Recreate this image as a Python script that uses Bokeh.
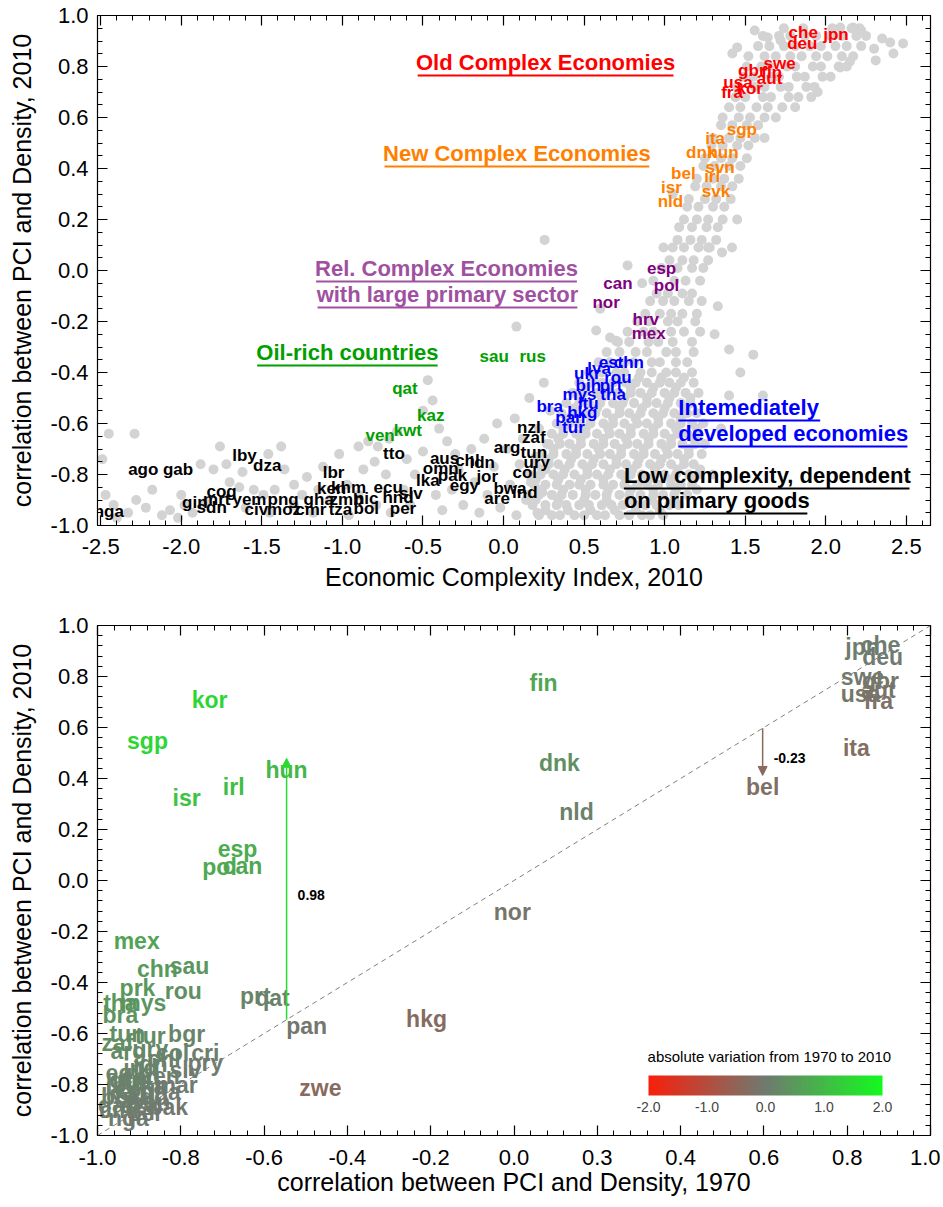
from bokeh.plotting import figure
from bokeh.layouts import column
from bokeh.models import (ColumnDataSource, LinearAxis, SingleIntervalTicker, NumeralTickFormatter,
                          Arrow, NormalHead, Slope, ColorBar, LinearColorMapper, FixedTicker, Label)
from bokeh.core.properties import value
from bokeh.transform import transform
from bokeh.embed import file_html
from bokeh.resources import INLINE

FONT = "Liberation Sans"

# ---------------------------------------------------------------- top panel data
# scattered countries/years (gray)
gray_pts = [
    (-2.49,-0.74),(-2.45,-0.64),(-2.29,-0.64),(-2.47,-0.88),(-2.42,-0.92),(-2.33,-0.95),(-2.40,-0.97),
    (-2.28,-0.90),(-2.22,-0.93),(-2.12,-0.96),(-2.18,-0.86),(-2.07,-0.94),(-2.02,-0.97),(-1.98,-0.92),
    (-1.93,-0.95),(-1.88,-0.76),(-1.80,-0.78),(-1.76,-0.69),(-1.72,-0.76),(-1.62,-0.79),(-1.46,-0.72),
    (-1.38,-0.69),(-1.36,-0.78),(-1.70,-0.83),(-1.64,-0.85),(-1.55,-0.86),(-1.49,-0.88),(-1.42,-0.86),
    (-1.30,-0.84),(-1.22,-0.81),(-1.12,-0.77),(-1.02,-0.72),(-0.90,-0.69),(-0.84,-0.67),(-0.78,-0.69),
    (-0.73,-0.80),(-0.80,-0.75),(-0.87,-0.78),(-1.60,-0.93),(-1.45,-0.95),(-1.30,-0.92),(-1.18,-0.95),
    (-1.08,-0.90),(-0.96,-0.96),(-0.90,-0.88),(-0.79,-0.92),(-1.85,-0.91),(-2.00,-0.88),(-1.25,-0.88),
    (-0.97,-0.84),(-1.15,-0.86),(-0.70,-0.95),(-0.66,-0.63),(-0.71,-0.66),(-0.62,-0.86),(-0.58,-0.92),
    (-0.60,-0.74),
    (-0.55,-0.80),(-0.50,-0.71),(-0.47,-0.43),(-0.44,-0.51),(-0.40,-0.62),(-0.35,-0.67),(-0.30,-0.72),
    (-0.42,-0.88),(-0.38,-0.94),(-0.32,-0.86),(-0.28,-0.78),(-0.25,-0.92),(-0.20,-0.70),(-0.18,-0.83),
    (-0.15,-0.95),(-0.12,-0.66),(-0.10,-0.88),(-0.06,-0.77),(-0.04,-0.60),(-0.02,-0.93),(0.02,-0.70),
    (0.04,-0.84),(0.07,-0.58),(0.08,-0.96),(0.10,-0.76),(0.12,-0.66),(0.14,-0.90),(0.16,-0.50),
    (0.17,-0.83),(0.20,-0.73),(0.21,-0.95),(0.22,-0.62),(0.24,-0.87),(0.25,-0.44),(0.26,-0.78),
    (0.28,-0.68),(0.29,-0.55),(0.255,0.12),(0.08,-0.22),(-0.50,-0.55),
    (1.31,-0.25),(1.40,-0.31),(1.47,-0.40),(1.61,-0.49),(1.40,-0.49),(1.35,-0.62),(1.55,-0.33),(1.30,-0.80),
    (0.993,0.090),(1.270,0.090),(1.356,0.071),(1.418,0.090),(0.575,-0.235),(0.661,-0.263),(0.698,-0.275),
    (0.77,0.02),(0.60,-0.15),(0.86,-0.05),(1.33,-0.14),(1.45,0.20),(1.05,0.30),(1.62,0.52),(1.95,0.70),
    (1.559,0.941),(1.64,0.914),(1.45,0.875),(1.42,0.851),(1.72,0.902),(2.17,0.953),(2.22,0.941),
    (2.40,0.894),(2.42,0.851),(2.48,0.890),(2.09,0.953),(2.31,0.824),(2.09,0.796),(2.15,0.82),
    (2.30,0.87),(2.35,0.91),
]

# dense part of the cloud, read row by row: (correlation, list of ECI values)
cloud_rows = [
    (-0.96, [0.22, 0.30, 0.35, 0.44, 0.50, 0.58, 0.63, 0.72, 0.78, 0.86, 0.91, 0.99]),
    (-0.94, [0.26, 0.40, 0.54, 0.69, 0.82, 0.97]),
    (-0.92, [0.18, 0.26, 0.33, 0.39, 0.47, 0.53, 0.61, 0.67, 0.74, 0.82, 0.88, 0.95, 1.03, 1.09]),
    (-0.90, [0.20, 0.34, 0.50, 0.64, 0.78, 0.92, 1.06]),
    (-0.88, [0.15, 0.22, 0.30, 0.36, 0.43, 0.51, 0.57, 0.64, 0.72, 0.78, 0.85, 0.93, 0.99, 1.06, 1.14]),
    (-0.86, [0.23, 0.37, 0.51, 0.65, 0.79, 0.93, 1.07, 1.20]),
    (-0.84, [0.19, 0.26, 0.33, 0.41, 0.47, 0.54, 0.62, 0.68, 0.75, 0.83, 0.89, 0.96, 1.04, 1.10, 1.17]),
    (-0.82, [0.20, 0.34, 0.48, 0.62, 0.76, 0.90, 1.04, 1.18]),
    (-0.80, [0.16, 0.23, 0.31, 0.37, 0.44, 0.52, 0.58, 0.65, 0.73, 0.79, 0.86, 0.94, 1.00, 1.07, 1.15, 1.21]),
    (-0.78, [0.24, 0.38, 0.52, 0.66, 0.80, 0.94, 1.08, 1.22]),
    (-0.76, [0.20, 0.28, 0.34, 0.41, 0.49, 0.55, 0.62, 0.70, 0.76, 0.83, 0.91, 0.97, 1.04, 1.12, 1.18]),
    (-0.74, [0.28, 0.42, 0.56, 0.70, 0.84, 0.98, 1.12]),
    (-0.72, [0.24, 0.31, 0.39, 0.45, 0.52, 0.60, 0.66, 0.73, 0.81, 0.87, 0.94, 1.02, 1.08, 1.15, 1.23]),
    (-0.70, [0.31, 0.45, 0.59, 0.73, 0.87, 1.01, 1.15]),
    (-0.68, [0.27, 0.35, 0.41, 0.48, 0.56, 0.62, 0.69, 0.77, 0.83, 0.90, 0.98, 1.04, 1.11, 1.19, 1.25]),
    (-0.66, [0.34, 0.48, 0.62, 0.76, 0.90, 1.04, 1.18]),
    (-0.64, [0.30, 0.37, 0.45, 0.51, 0.58, 0.66, 0.72, 0.79, 0.87, 0.93, 1.00, 1.08, 1.14, 1.21]),
    (-0.62, [0.37, 0.51, 0.65, 0.79, 0.93, 1.07, 1.20]),
    (-0.60, [0.33, 0.41, 0.47, 0.54, 0.62, 0.68, 0.75, 0.83, 0.89, 0.96, 1.04, 1.10, 1.17, 1.24]),
    (-0.58, [0.40, 0.54, 0.68, 0.82, 0.96, 1.10]),
    (-0.56, [0.36, 0.43, 0.51, 0.57, 0.64, 0.72, 0.78, 0.85, 0.93, 0.99, 1.06, 1.14, 1.20]),
    (-0.54, [0.44, 0.58, 0.72, 0.86, 1.00, 1.13]),
    (-0.52, [0.39, 0.47, 0.53, 0.60, 0.68, 0.74, 0.81, 0.89, 0.95, 1.02, 1.10, 1.16]),
    (-0.50, [0.47, 0.61, 0.75, 0.89, 1.03, 1.16]),
    (-0.48, [0.43, 0.50, 0.58, 0.64, 0.71, 0.79, 0.85, 0.92, 1.00, 1.06, 1.13, 1.21]),
    (-0.46, [0.51, 0.65, 0.79, 0.93, 1.07]),
    (-0.44, [0.47, 0.55, 0.61, 0.68, 0.76, 0.82, 0.89, 0.97, 1.03, 1.10, 1.18]),
    (-0.42, [0.56, 0.70, 0.84, 0.98, 1.12]),
    (-0.40, [0.53, 0.61, 0.70, 0.75, 0.85, 0.92, 1.01, 1.07, 1.17]),
    (-0.36, [0.59, 0.66, 0.75, 0.81, 0.92, 0.97, 1.07, 1.14]),
    (-0.32, [0.64, 0.72, 0.82, 0.89, 1.01, 1.07, 1.18]),
    (-0.28, [0.71, 0.78, 0.90, 0.96, 1.05, 1.17]),
    (-0.24, [0.77, 0.87, 0.93, 1.04, 1.12, 1.22]),
    (-0.20, [0.83, 0.90, 1.02, 1.08, 1.19]),
    (-0.17, [0.88, 0.97, 1.04, 1.11, 1.20]),
    (-0.12, [0.91, 0.99, 1.06, 1.15, 1.23]),
    (-0.09, [0.95, 1.02, 1.11, 1.17]),
    (-0.04, [0.93, 1.06, 1.13, 1.22]),
    (0.01, [0.98, 1.08, 1.17, 1.24]),
    (0.04, [1.03, 1.11, 1.18, 1.27]),
    (0.09, [1.05, 1.12, 1.21, 1.28]),
    (0.12, [1.08, 1.16, 1.23, 1.32]),
    (0.17, [1.09, 1.17, 1.26, 1.33]),
    (0.20, [1.12, 1.20, 1.27, 1.36]),
    (0.25, [1.14, 1.21, 1.30, 1.37]),
    (0.28, [1.15, 1.25, 1.32, 1.41]),
    (0.33, [1.19, 1.26, 1.35, 1.42]),
    (0.36, [1.20, 1.30, 1.37, 1.46]),
    (0.41, [1.24, 1.31, 1.40, 1.47]),
    (0.44, [1.25, 1.35, 1.42, 1.51]),
    (0.49, [1.29, 1.36, 1.45, 1.52]),
    (0.52, [1.30, 1.40, 1.47, 1.56]),
    (0.57, [1.35, 1.42, 1.51, 1.58]),
    (0.60, [1.36, 1.46, 1.53, 1.62, 1.69]),
    (0.64, [1.40, 1.47, 1.57, 1.64, 1.73, 1.81]),
    (0.68, [1.44, 1.50, 1.61, 1.66, 1.77, 1.83, 1.91]),
    (0.72, [1.45, 1.56, 1.62, 1.72, 1.77, 1.88, 1.93]),
    (0.76, [1.49, 1.55, 1.66, 1.71, 1.82, 1.87, 1.98, 2.03]),
    (0.80, [1.51, 1.60, 1.65, 1.76, 1.81, 1.92, 1.97, 2.08, 2.13]),
    (0.84, [1.52, 1.62, 1.69, 1.78, 1.85, 1.94, 2.01, 2.10, 2.17]),
    (0.88, [1.58, 1.65, 1.74, 1.81, 1.90, 1.97, 2.06, 2.13, 2.22]),
    (0.92, [1.61, 1.71, 1.78, 1.87, 1.94, 2.03, 2.10, 2.19, 2.25]),
    (0.95, [1.74, 1.86, 2.04, 2.16, 2.21]),
]
gray_x = [p[0] for p in gray_pts] + [x for yy, xs in cloud_rows for x in xs]
gray_y = [p[1] for p in gray_pts] + [yy for yy, xs in cloud_rows for x in xs]

old_names = ["che", "jpn", "deu", "swe", "gbr", "fin", "aut", "usa", "kor", "fra"]
old_x = [1.860, 2.063, 1.854, 1.713, 1.541, 1.664, 1.651, 1.455, 1.528, 1.418]
old_y = [0.933, 0.925, 0.890, 0.812, 0.784, 0.776, 0.753, 0.737, 0.714, 0.698]

new_names = ["sgp", "ita", "dnk", "hun", "svn", "irl", "bel", "isr", "svk", "nld"]
new_x = [1.479, 1.313, 1.227, 1.362, 1.344, 1.295, 1.116, 1.042, 1.319, 1.036]
new_y = [0.553, 0.518, 0.463, 0.463, 0.404, 0.369, 0.380, 0.325, 0.310, 0.271]

rel_names = ["esp", "can", "pol", "nor", "hrv", "mex"]
rel_x = [0.981, 0.710, 1.012, 0.637, 0.883, 0.901]
rel_y = [0.008, -0.051, -0.059, -0.125, -0.192, -0.247]

mid_names = ["est", "chn", "ukr", "lva", "rou", "bih", "prt", "mys", "tha", "bra", "ltu", "hkg", "pan", "tur"]
mid_x = [0.667, 0.778, 0.520, 0.593, 0.710, 0.526, 0.667, 0.471, 0.680, 0.286, 0.526, 0.489, 0.415, 0.434]
mid_y = [-0.361, -0.361, -0.404, -0.384, -0.420, -0.451, -0.451, -0.486, -0.486, -0.533, -0.522, -0.557, -0.576, -0.616]

oil_names = ["sau", "rus", "qat", "kaz", "kwt", "ven"]
oil_x = [-0.058, 0.181, -0.612, -0.452, -0.594, -0.766]
oil_y = [-0.337, -0.337, -0.463, -0.569, -0.627, -0.647]

low_names = ["nga", "ago", "gab", "lby", "dza", "cog", "gin", "mrt", "sdn", "yem", "png", "civ", "moz",
             "cmr", "gha", "zmb", "tza", "lbr", "ken", "khm", "nic", "bol", "per", "ecu", "hnd", "slv",
             "lka", "egy", "tto", "aus", "chl", "idn", "omn", "pak", "jor", "nzl", "zaf", "arg", "tun",
             "ury", "col", "bwa", "ind", "are"]
low_x = [-2.45, -2.236, -2.020, -1.608, -1.467, -1.750, -1.916, -1.780, -1.811, -1.577, -1.368, -1.534, -1.362,
         -1.196, -1.147, -0.975, -1.012, -1.055, -1.067, -0.962, -0.852, -0.852, -0.624, -0.716, -0.655, -0.575,
         -0.470, -0.243, -0.680, -0.366, -0.224, -0.132, -0.390, -0.317, -0.101, 0.157, 0.188, 0.022, 0.188,
         0.206, 0.132, 0.040, 0.132, -0.040]
low_y = [-0.945, -0.780, -0.780, -0.725, -0.765, -0.867, -0.910, -0.898, -0.929, -0.898, -0.898, -0.937, -0.937,
         -0.937, -0.898, -0.898, -0.937, -0.792, -0.855, -0.851, -0.894, -0.933, -0.933, -0.851, -0.890, -0.875,
         -0.824, -0.843, -0.718, -0.737, -0.745, -0.753, -0.776, -0.804, -0.808, -0.616, -0.655, -0.694, -0.714,
         -0.753, -0.792, -0.855, -0.871, -0.894]

cat_text = ["Old Complex Economies", "New Complex Economies", "Rel. Complex Economies",
            "with large primary sector", "Oil-rich countries", "Intemediately", "developed economies",
            "Low complexity, dependent", "on primary goods"]
cat_x = [0.261, 0.083, -0.354, -0.348, -0.969, 1.085, 1.085, 0.747, 0.747]
cat_y = [0.816, 0.459, 0.008, -0.094, -0.322, -0.537, -0.639, -0.804, -0.902]
cat_color = ["#ff0000", "#ff8000", "#a050a0", "#a050a0", "#00a000", "#0000ff", "#0000ff", "#000000", "#000000"]
cat_align = ["center"] * 5 + ["left"] * 4
cat_width_px = [258, 267, 263, 262, 182, 143, 231, 288, 185]

# ---------------------------------------------------------------- bottom panel data
bot_names = ["kor", "sgp", "fin", "hun", "irl", "isr", "dnk", "nld", "esp", "pol", "can", "mex", "chn", "sau",
             "rou", "prk", "tha", "mys", "bra", "prt", "qat", "pan", "nor", "hkg", "zwe", "bel", "ita", "jpn",
             "che", "deu", "swe", "gbr", "aut", "usa", "fra",
             "tun", "tur", "bgr", "zaf", "arg", "ury", "col", "cri", "pry", "slv", "idn", "egy", "ind", "chl",
             "gtm", "lka", "ken", "gha", "civ", "sen", "pak", "cmr", "nga", "per", "bol", "ecu", "ven", "mar",
             "dza", "lby", "ago", "gab", "cog"]
bot_x70 = [-0.731, -0.880, 0.071, -0.546, -0.673, -0.786, 0.109, 0.150, -0.664, -0.707, -0.652, -0.906, -0.856,
           -0.779, -0.794, -0.904, -0.945, -0.890, -0.945, -0.621, -0.580, -0.498, -0.004, -0.210, -0.465, 0.597,
           0.822, 0.837, 0.880, 0.885, 0.837, 0.880, 0.875, 0.832, 0.875,
           -0.928, -0.873, -0.786, -0.952, -0.926, -0.873, -0.820, -0.741, -0.741, -0.789, -0.873, -0.933, -0.897,
           -0.840, -0.921, -0.873, -0.933, -0.849, -0.921, -0.873, -0.830, -0.945, -0.926, -0.885, -0.950, -0.897,
           -0.850, -0.810, -0.900, -0.940, -0.880, -0.950, -0.910]
bot_y10 = [0.706, 0.549, 0.773, 0.434, 0.365, 0.325, 0.459, 0.267, 0.122, 0.051, 0.055, -0.239, -0.349,
           -0.337, -0.435, -0.420, -0.482, -0.482, -0.529, -0.451, -0.459, -0.569, -0.122, -0.545, -0.812, 0.367,
           0.518, 0.914, 0.922, 0.878, 0.800, 0.784, 0.749, 0.733, 0.702,
           -0.600, -0.608, -0.600, -0.639, -0.667, -0.659, -0.675, -0.678, -0.714, -0.745, -0.718, -0.753, -0.737,
           -0.700, -0.784, -0.804, -0.831, -0.831, -0.860, -0.870, -0.890, -0.900, -0.933, -0.910, -0.850, -0.770,
           -0.765, -0.800, -0.880, -0.800, -0.850, -0.880, -0.820]
bot_delta = [b - a for a, b in zip(bot_x70, bot_y10)]

arrow_names = ["hun", "bel"]
arrow_delta = [0.98, -0.23]

bot_xticks_override = {0.2: "0.3"}
cbar_title = "absolute variation from 1970 to 2010"
cbar_ticks = [-2, -1, 0, 1, 2]

# ---------------------------------------------------------------- helpers
def style_axis(ax, interval, nminor, labels, title=None, standoff=10, title_standoff=6):
    ax.ticker = SingleIntervalTicker(interval=interval, num_minor_ticks=nminor)
    ax.formatter = NumeralTickFormatter(format="0.0")
    ax.major_tick_in = 10
    ax.major_tick_out = 0
    ax.minor_tick_in = 5
    ax.minor_tick_out = 0
    for attr in ("axis_line_color", "major_tick_line_color", "minor_tick_line_color"):
        setattr(ax, attr, "black")
    ax.axis_line_width = 1.2
    ax.major_tick_line_width = 1.2
    ax.minor_tick_line_width = 1.0
    if labels:
        ax.major_label_text_font = FONT
        ax.major_label_text_font_size = "22px"
        ax.major_label_text_color = "black"
        ax.major_label_standoff = standoff
        ax.axis_label = title
        ax.axis_label_text_font = FONT
        ax.axis_label_text_font_size = "25px"
        ax.axis_label_text_font_style = "normal"
        ax.axis_label_text_color = "black"
        ax.axis_label_standoff = title_standoff
    else:
        ax.major_label_text_font_size = "1px"
        ax.major_label_text_color = None
        ax.major_label_standoff = 0


def frame(p, xint, xminor, yint, yminor, xlabel, ylabel, xstand, ystand):
    p.grid.visible = False
    p.outline_line_color = "black"
    p.background_fill_color = "white"
    p.border_fill_color = "white"
    style_axis(p.below[0], xint, xminor, True, xlabel, standoff=xstand[0], title_standoff=xstand[1])
    style_axis(p.left[0], yint, yminor, True, ylabel, standoff=ystand[0], title_standoff=ystand[1])
    top = LinearAxis()
    right = LinearAxis()
    style_axis(top, xint, xminor, False)
    style_axis(right, yint, yminor, False)
    p.add_layout(top, "above")
    p.add_layout(right, "right")


def add_names(p, names, xs, ys, color, size):
    src = ColumnDataSource(dict(x=xs, y=ys, t=names))
    p.text(x="x", y="y", text="t", source=src, text_color=color, text_font=value(FONT),
           text_font_style="bold", text_font_size=size, text_align="center", text_baseline="middle")


# ---------------------------------------------------------------- top figure
X0, X1 = -2.52, 2.65
W, BL, BR = 940, 97, 3
p1 = figure(width=W, height=608, x_range=(X0, X1), y_range=(-1.0, 1.0),
            output_backend="svg", toolbar_location=None,
            min_border_left=BL, min_border_right=BR, min_border_top=15, min_border_bottom=83)
frame(p1, 0.5, 5, 0.2, 4, "Economic Complexity Index, 2010",
      "correlation between PCI and Density, 2010", (13, 6), (9, 12))

p1.scatter(gray_x, gray_y, size=10, fill_color="#d3d3d3", line_color=None)

add_names(p1, low_names, low_x, low_y, "black", "17px")
add_names(p1, oil_names, oil_x, oil_y, "#00a000", "17px")
add_names(p1, mid_names, mid_x, mid_y, "#0000ff", "17px")
add_names(p1, rel_names, rel_x, rel_y, "#800080", "17px")
add_names(p1, new_names, new_x, new_y, "#ff8000", "17px")
add_names(p1, old_names, old_x, old_y, "#ff0000", "17px")

cat_src = ColumnDataSource(dict(x=cat_x, y=cat_y, t=cat_text, c=cat_color, a=cat_align))
p1.text(x="x", y="y", text="t", source=cat_src, text_color="c", text_align="a",
        text_font=value(FONT), text_font_style="bold", text_font_size="22px", text_baseline="middle")

sx = (W - BL - BR) / (X1 - X0)
sy = 510 / 2.0
ux0, ux1, uy = [], [], []
for cx, cy, a, w in zip(cat_x, cat_y, cat_align, cat_width_px):
    if a == "center":
        ux0.append(cx - w / 2 / sx)
        ux1.append(cx + w / 2 / sx)
    else:
        ux0.append(cx)
        ux1.append(cx + w / sx)
    uy.append(cy - 13 / sy)
p1.segment(x0=ux0, y0=uy, x1=ux1, y1=uy, line_color=cat_color, line_width=2)

# ---------------------------------------------------------------- bottom figure
def lerp(c1, c2, t):
    return "#%02x%02x%02x" % tuple(int(round(a + (b - a) * t)) for a, b in zip(c1, c2))

RED, MID, GREEN = (248, 32, 12), (112, 122, 112), (20, 250, 30)
palette = [lerp(RED, MID, i / 127) for i in range(128)] + [lerp(MID, GREEN, i / 127) for i in range(128)]
mapper = LinearColorMapper(palette=palette, low=-2, high=2)


def cmap_color(d):
    t = (d + 2) / 4
    return palette[max(0, min(255, int(t * 256)))]


p2 = figure(width=W, height=599, x_range=(-1.0, 1.0), y_range=(-1.0, 1.0),
            output_backend="svg", toolbar_location=None,
            min_border_left=BL, min_border_right=10, min_border_top=17, min_border_bottom=72)
frame(p2, 0.2, 5, 0.2, 5, "correlation between PCI and Density, 1970",
      "correlation between PCI and Density, 2010", (14, 0), (9, 12))
p2.below[0].major_label_overrides = bot_xticks_override

p2.add_layout(Slope(gradient=1, y_intercept=0, line_color="#808080", line_dash="5 4", line_width=1))

bsrc = ColumnDataSource(dict(x=bot_x70, y=bot_y10, t=bot_names, d=bot_delta))
p2.text(x="x", y="y", text="t", source=bsrc, text_color=transform("d", mapper),
        text_font=value(FONT), text_font_style="bold", text_font_size="23px",
        text_align="center", text_baseline="middle")

for name, d in zip(arrow_names, arrow_delta):
    i = bot_names.index(name)
    x0 = bot_x70[i]
    col = cmap_color(d * 1.5)
    p2.add_layout(Arrow(end=NormalHead(size=9, fill_color=col, line_color=col),
                        x_start=x0, y_start=x0, x_end=x0, y_end=bot_y10[i] + 0.045,
                        line_color=col, line_width=1.5))
    p2.add_layout(Label(x=x0, y=x0 + d / 2, text="%.2f" % d, x_offset=11,
                        text_font=FONT, text_font_size="14px", text_font_style="bold",
                        text_color="black", text_baseline="middle"))

cb = ColorBar(color_mapper=mapper, orientation="horizontal", width=234, height=20,
              ticker=FixedTicker(ticks=cbar_ticks), formatter=NumeralTickFormatter(format="0.0"),
              major_label_text_font=FONT, major_label_text_font_size="14px",
              major_tick_line_color=None, bar_line_color=None, border_line_color=None,
              background_fill_alpha=0, location=(541, 11), padding=10, label_standoff=6)
p2.add_layout(cb)
p2.add_layout(Label(x=0.613, y=-0.690, text=cbar_title, text_font=FONT, text_font_size="15px",
                    text_color="black", text_align="center", text_baseline="middle"))

layout = column(p1, p2, spacing=0)
open("out.html", "w").write(file_html(layout, INLINE))
